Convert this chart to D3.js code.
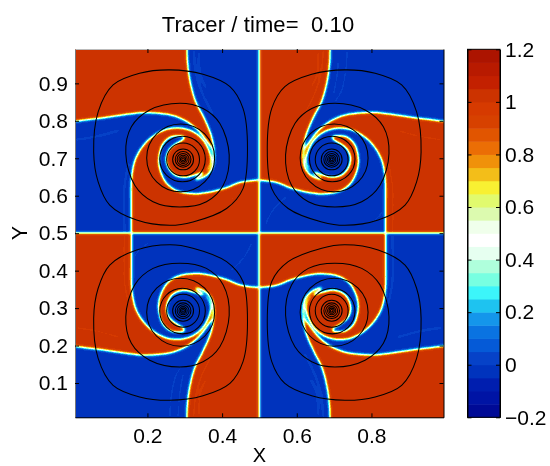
<!DOCTYPE html>
<html><head><meta charset="utf-8">
<script src="https://cdnjs.cloudflare.com/ajax/libs/d3/7.8.5/d3.min.js"></script>
<style>html,body{margin:0;padding:0;background:#fff}svg{display:block}text{font-family:"Liberation Sans",Arial,sans-serif;fill:#000}</style>
</head><body><svg id="c" width="550" height="466"></svg>
<script>
// ---- values (data units) ----
const titleText = "Tracer / time=\u00a0\u00a00.10";
const xTicks = [0.2,0.4,0.6,0.8];
const yTicks = [0.1,0.2,0.3,0.4,0.5,0.6,0.7,0.8,0.9];
const barTicks = [-0.2,0,0.2,0.4,0.6,0.8,1,1.2];
const barLabels = ["\u22120.2","0","0.2","0.4","0.6","0.8","1","1.2"];
const bandStep = 0.05;
const bandColors = ["#000a96","#0014a5","#001eaf","#0033bd","#0642c8","#055ad7","#0a73e1","#1496eb","#1ec3f0","#3cf5fa","#78ffe1","#afffdc","#e6fff0","#ffffff","#f0ffeb","#dcfaaf","#e1fa6e","#f8f032","#f3be19","#f0910a","#eb6e05","#e15500","#d74100","#d63a00","#cc3300","#c32000","#b81a00","#ac1400"];
const redValue = 1.02, blueValue = -0.02, redRipple = 0.98, blueRipple = 0.03;

// top-left quadrant interfaces; the other three quadrants are its mirror images
const redArmA = [[-0.05,1.05],[0.306,1.05],[0.306,0.991],[0.307,0.958],[0.311,0.922],[0.318,0.887],[0.329,0.851],[0.345,0.820],[0.360,0.789],[0.371,0.760],[0.377,0.731],[0.379,0.700],[0.372,0.671],[0.354,0.652],[0.329,0.643],[0.329,0.646],[0.347,0.657],[0.367,0.675],[0.375,0.700],[0.373,0.725],[0.360,0.745],[0.336,0.775],[0.305,0.799],[0.269,0.814],[0.233,0.820],[0.188,0.822],[0.135,0.816],[0.081,0.808],[0.046,0.804],[0.005,0.799],[-0.05,0.797]];
const redArmB = [[0.157,0.45],[0.157,0.499],[0.157,0.575],[0.157,0.628],[0.160,0.664],[0.169,0.700],[0.190,0.735],[0.220,0.762],[0.255,0.778],[0.291,0.780],[0.322,0.771],[0.347,0.751],[0.363,0.725],[0.370,0.695],[0.3625,0.673],[0.349,0.660],[0.342,0.668],[0.356,0.695],[0.354,0.722],[0.336,0.744],[0.318,0.755],[0.291,0.760],[0.264,0.758],[0.242,0.740],[0.233,0.717],[0.230,0.691],[0.235,0.664],[0.251,0.633],[0.278,0.613],[0.322,0.605],[0.367,0.609],[0.412,0.621],[0.447,0.635],[0.499,0.642],[0.55,0.645],[0.55,0.45]];
const coreDisc = [[0.291,0.764],[0.327,0.758],[0.358,0.726],[0.364,0.695],[0.349,0.666],[0.318,0.653],[0.291,0.650],[0.269,0.659],[0.254,0.680],[0.251,0.704],[0.260,0.725],[0.276,0.738],[0.300,0.755]];
const rippleInRed = [
 [[0.26,0.99],[0.264,0.932],[0.276,0.878],[0.296,0.847]],
 [[0.282,0.99],[0.287,0.922],[0.297,0.869]]];
const rippleInRedLower = [
 [[0.162,0.619],[0.166,0.557],[0.206,0.521]],
 [[0.42,0.60],[0.46,0.56],[0.48,0.52]]];
const rippleInBlue = [
 [[0.324,0.99],[0.329,0.931],[0.345,0.878],[0.376,0.816]],
 [[0.338,0.985],[0.342,0.923],[0.358,0.886]],
 [[0.005,0.749],[0.063,0.758],[0.126,0.775]],
 [[0.139,0.499],[0.139,0.628],[0.151,0.69]]];
const contourOuter = [[0.260,0.936],[0.349,0.924],[0.421,0.891],[0.456,0.833],[0.468,0.726],[0.456,0.619],[0.412,0.566],[0.322,0.530],[0.260,0.521],[0.171,0.535],[0.099,0.575],[0.068,0.637],[0.056,0.717],[0.068,0.824],[0.108,0.896],[0.179,0.927]];
const contourMiddle = [[0.287,0.847],[0.349,0.833],[0.394,0.793],[0.419,0.709],[0.403,0.628],[0.358,0.584],[0.287,0.570],[0.215,0.584],[0.166,0.628],[0.142,0.713],[0.157,0.784],[0.206,0.829]];
// ring centre x, y, radius
const contourRings = [[0.289,0.701,0.091],[0.294,0.698,0.061],[0.2955,0.697,0.044],[0.2955,0.697,0.028],[0.2955,0.697,0.021],[0.2955,0.697,0.016],[0.2955,0.697,0.011],[0.2955,0.697,0.007],[0.2955,0.697,0.0035]];
const fieldMirror = [0.4975,0.4985];
const contourMirror = [0.4945,0.4950];
const quadrantSplit = [0.4995,0.5005];

// ---- scales ----
const x = d3.scaleLinear().domain([0.006,0.993]).range([75,443.5]);
const y = d3.scaleLinear().domain([0.0085,0.9917]).range([417.3,49]);
const barY = d3.scaleLinear().domain([-0.2,1.2]).range([417.3,49.3]);
const gray = d3.scaleLinear().domain([-0.2,1.2]).range([0,255]);
const grayOf = v => { const c = gray(v); return `rgb(${c},${c},${c})`; };

const svg = d3.select("#c");
const defs = svg.append("defs");

// value → colour lookup applied to the smoothed field
const f = defs.append("filter").attr("id","jet").attr("filterUnits","userSpaceOnUse")
  .attr("x",0).attr("y",0).attr("width",550).attr("height",466)
  .attr("color-interpolation-filters","sRGB");
f.append("feGaussianBlur").attr("stdDeviation",1.5).attr("result","b");
const tr = f.append("feComponentTransfer").attr("result","m");
const rgb = bandColors.map(c => d3.rgb(c));
[["feFuncR","r"],["feFuncG","g"],["feFuncB","b"]].forEach(([n,k]) =>
  tr.append(n).attr("type","discrete").attr("tableValues",rgb.map(c => (c[k]/255).toFixed(4)).join(" ")));
f.append("feGaussianBlur").attr("stdDeviation",0.45);

defs.append("clipPath").attr("id","plotClip").append("rect")
  .attr("x",x(0.006)).attr("y",y(0.9917)).attr("width",x(0.993)-x(0.006)).attr("height",y(0.0085)-y(0.9917));

const quads = [
  {id:"tl",sx:false,sy:false,red:true, x0:-0.1,x1:quadrantSplit[0],y0:quadrantSplit[1],y1:1.1},
  {id:"tr",sx:true, sy:false,red:false,x0:quadrantSplit[0],x1:1.1,y0:quadrantSplit[1],y1:1.1},
  {id:"bl",sx:false,sy:true, red:false,x0:-0.1,x1:quadrantSplit[0],y0:-0.1,y1:quadrantSplit[1]},
  {id:"br",sx:true, sy:true, red:true, x0:quadrantSplit[0],x1:1.1,y0:-0.1,y1:quadrantSplit[1]}
];
quads.forEach(q => defs.append("clipPath").attr("id","q"+q.id).append("rect")
  .attr("x",x(q.x0)).attr("y",y(q.y1)).attr("width",x(q.x1)-x(q.x0)).attr("height",y(q.y0)-y(q.y1)));

const place = (q,m) => p => [x(q.sx ? 2*m[0]-p[0] : p[0]), y(q.sy ? 2*m[1]-p[1] : p[1])];
const poly = d3.line().curve(d3.curveCatmullRom.alpha(0.5));
const closed = d3.line().curve(d3.curveCatmullRomClosed.alpha(0.5));

const outer = svg.append("g").attr("clip-path","url(#plotClip)");
const field = outer.append("g").attr("filter","url(#jet)");
quads.forEach(q => {
  const g = field.append("g").attr("clip-path",`url(#q${q.id})`);
  const P = place(q,fieldMirror);
  const fg = q.red ? redValue : blueValue, bg = q.red ? blueValue : redValue;
  const fgR = q.red ? redRipple : blueRipple, bgR = q.red ? blueRipple : redRipple;
  g.append("rect").attr("x",x(q.x0)).attr("y",y(q.y1)).attr("width",x(q.x1)-x(q.x0)).attr("height",y(q.y0)-y(q.y1)).attr("fill",grayOf(bg));
  [redArmA,redArmB].forEach(a => g.append("path").attr("d",poly(a.map(P))+"Z").attr("fill",grayOf(fg)));
  g.append("path").attr("d",closed(coreDisc.map(P))).attr("fill",grayOf(fg));
  rippleInRed.concat(rippleInRedLower).forEach(a => g.append("path").attr("d",poly(a.map(P))).attr("fill","none").attr("stroke",grayOf(fgR)).attr("stroke-width",1.8));
  rippleInBlue.forEach(a => g.append("path").attr("d",poly(a.map(P))).attr("fill","none").attr("stroke",grayOf(bgR)).attr("stroke-width",2.2));
});

// contours
const cg = outer.append("g").attr("fill","none").attr("stroke","#000").attr("stroke-width",1.05);
quads.forEach(q => {
  const P = place(q,contourMirror);
  [contourOuter,contourMiddle].forEach(a => cg.append("path").attr("d",closed(a.map(P))));
  contourRings.forEach(r => { const c = P(r); cg.append("circle").attr("cx",c[0]).attr("cy",c[1]).attr("r",x(r[2])-x(0)); });
});

// axes
const fs = 21;
const style = (color) => (g) => { g.selectAll("text").attr("font-size",fs).attr("font-family","Liberation Sans"); g.selectAll("line").attr("stroke","#000").attr("stroke-width",1); g.selectAll("path").attr("stroke",color).attr("stroke-width",1); };
const fmt = d3.format(".1f");
svg.append("g").attr("transform",`translate(${x(0.006)},0)`).call(d3.axisLeft(y).tickValues(yTicks).tickSizeInner(-4).tickSizeOuter(0).tickPadding(7).tickFormat(fmt)).call(style("#777"));
svg.append("g").attr("transform",`translate(0,${y(0.9917)})`).call(d3.axisTop(x).tickValues(xTicks).tickSizeInner(-4).tickSizeOuter(0).tickFormat("")).call(style("#bbb"));
svg.append("g").attr("transform",`translate(0,${y(0.0085)})`).call(d3.axisBottom(x).tickValues(xTicks).tickSizeInner(-4).tickSizeOuter(0).tickPadding(10.8).tickFormat(fmt)).call(style("#000"));
svg.append("g").attr("transform",`translate(${x(0.993)},0)`).call(d3.axisRight(y).tickValues(yTicks).tickSizeInner(-4).tickSizeOuter(0).tickFormat("")).call(style("#000"));

svg.append("text").attr("x",258).attr("y",31.7).attr("text-anchor","middle").attr("font-size",22).attr("letter-spacing",0.1).text(titleText);
svg.append("text").attr("x",259.5).attr("y",461.5).attr("text-anchor","middle").attr("font-size",20).text("X");
svg.append("text").attr("transform","translate(27,233) rotate(-90)").attr("text-anchor","middle").attr("font-size",21.5).text("Y");

// colour bar
const bx0 = 467.5, bx1 = 500;
const bar = svg.append("g");
bar.selectAll("rect").data(bandColors).join("rect")
  .attr("x",bx0).attr("width",bx1-bx0)
  .attr("y",(d,i)=>barY(-0.2+(i+1)*bandStep)).attr("height",(d,i)=>barY(-0.2+i*bandStep)-barY(-0.2+(i+1)*bandStep)+0.5)
  .attr("fill",d=>d);
bar.append("g").attr("transform",`translate(${bx1},0)`).call(d3.axisRight(barY).tickValues(barTicks).tickSizeInner(-4).tickSizeOuter(0).tickPadding(5).tickFormat((d,i)=>barLabels[i])).call(style("#000"));
bar.append("g").attr("transform",`translate(${bx0},0)`).call(d3.axisLeft(barY).tickValues(barTicks).tickSizeInner(-4).tickSizeOuter(0).tickFormat("")).call(style("#000"));
bar.append("rect").attr("x",bx0).attr("y",49.3).attr("width",bx1-bx0).attr("height",368).attr("fill","none").attr("stroke","#000");
</script></body></html>
